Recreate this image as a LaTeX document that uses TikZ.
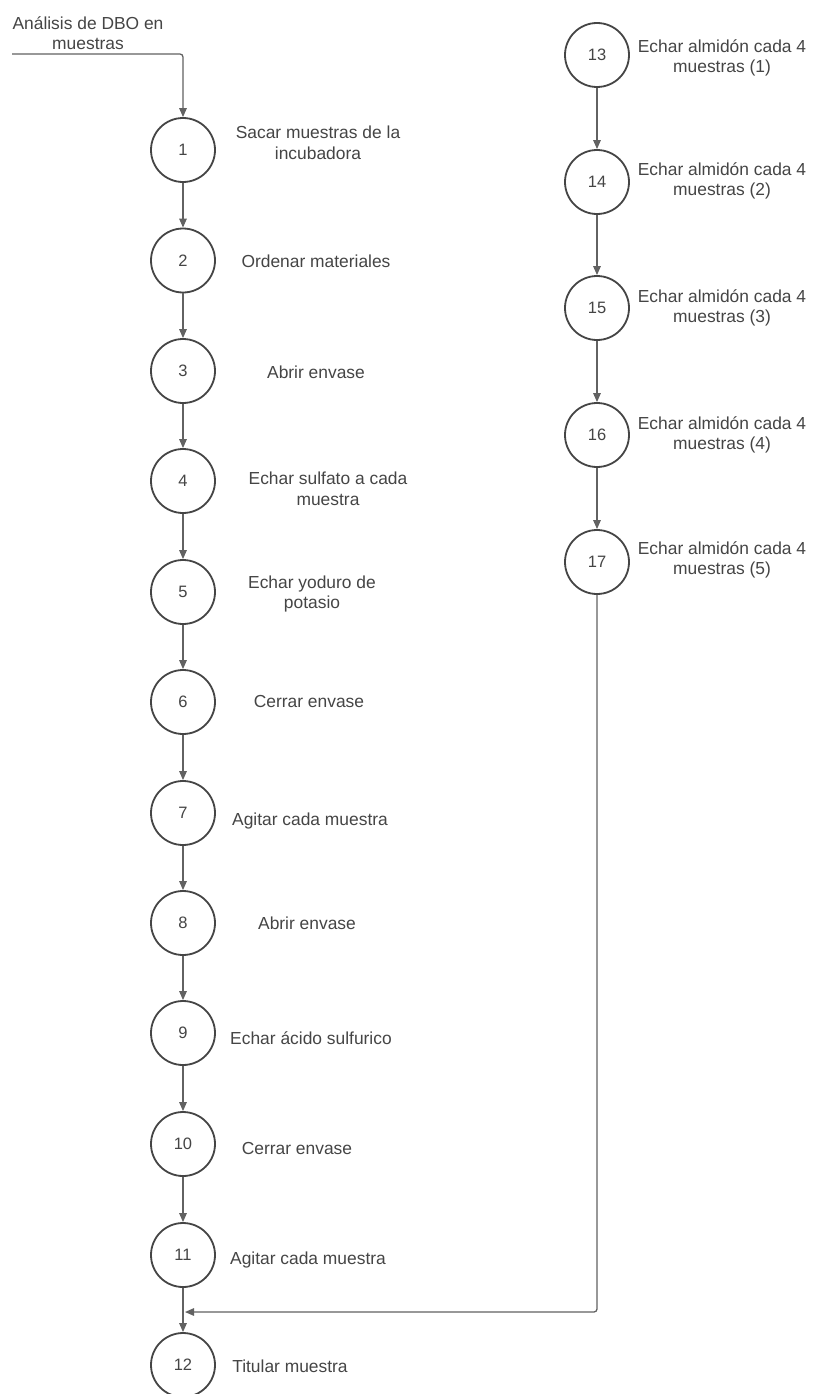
\documentclass[tikz,border=0pt]{standalone}
\usepackage{fontspec}
\setmainfont{Liberation Sans}
\usetikzlibrary{arrows.meta}
\definecolor{ink}{HTML}{454545}
\definecolor{wire}{HTML}{626262}
\begin{document}
\begin{tikzpicture}[x=1pt,y=-1pt,
  stepcircle/.style={circle, draw=ink, line width=1.8pt, minimum size=64pt,
    inner sep=0pt, text=ink, font=\fontsize{16.5}{19}\selectfont},
  steplabel/.style={align=center, text=ink, inner sep=0pt,
    font=\fontsize{17.4}{20.5}\selectfont},
  flow/.style={draw=wire, line width=1.3pt,
    -{Triangle[length=9pt,width=7.5pt]}},
]
\fill[white] (0,0) rectangle (812,1394);
\useasboundingbox (0,0) rectangle (812,1394);

% left column of steps
\foreach \i/\y in {1/150,2/260.5,3/371,4/481,5/592,6/702,7/813,8/923,9/1033,10/1144,11/1255,12/1365}
  \node[stepcircle] (s\i) at (183,\y) {\i};

% right column of steps
\foreach \i/\y in {13/55,14/182,15/308,16/435,17/562}
  \node[stepcircle] (s\i) at (597,\y) {\i};

% step descriptions
\node[steplabel] (l1)  at (318,143)  {Sacar muestras de la\\incubadora};
\node[steplabel] (l2)  at (316,261)  {Ordenar materiales};
\node[steplabel] (l3)  at (316,372)  {Abrir envase};
\node[steplabel] (l4)  at (328,489)  {Echar sulfato a cada\\muestra};
\node[steplabel] (l5)  at (312,594)  {Echar yoduro de\\potasio};
\node[steplabel] (l6)  at (309,702)  {Cerrar envase};
\node[steplabel] (l7)  at (310,821)  {Agitar cada muestra};
\node[steplabel] (l8)  at (307,923)  {Abrir envase};
\node[steplabel] (l9)  at (311,1038) {Echar ácido sulfurico};
\node[steplabel] (l10) at (297,1148) {Cerrar envase};
\node[steplabel] (l11) at (308,1260) {Agitar cada muestra};
\node[steplabel] (l12) at (290,1366) {Titular muestra};
\node[steplabel] (l13) at (722,58)  {Echar almidón cada 4\\muestras (1)};
\node[steplabel] (l14) at (722,181) {Echar almidón cada 4\\muestras (2)};
\node[steplabel] (l15) at (722,308) {Echar almidón cada 4\\muestras (3)};
\node[steplabel] (l16) at (722,435) {Echar almidón cada 4\\muestras (4)};
\node[steplabel] (l17) at (722,560) {Echar almidón cada 4\\muestras (5)};

% entry
\node[steplabel] (title) at (88,33) {Análisis de DBO en\\muestras};
\coordinate (start) at (12,54);
\draw[flow, rounded corners=3pt] (start) -| (s1);

% sequential flow
\foreach \a/\b in {1/2,2/3,3/4,4/5,5/6,6/7,7/8,8/9,9/10,10/11,11/12,13/14,14/15,15/16,16/17}
  \draw[flow] (s\a) -- (s\b);

% return from the right column into the main line
\coordinate (join) at (185,1312);
\draw[flow, rounded corners=3pt] (s17) |- (join);
\end{tikzpicture}
\end{document}
